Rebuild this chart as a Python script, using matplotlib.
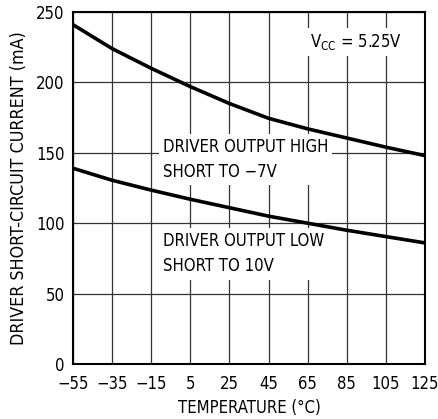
import matplotlib

matplotlib.use("Agg")

from matplotlib import pyplot
import numpy as np

temps = [-55, -35, -15, 5, 25, 45, 65, 85, 105, 125]
high_short = [241, 224, 210, 197, 185, 174.5, 167, 160.5, 154, 148]
low_short = [139, 130.5, 123.5, 117, 111, 105, 100, 95, 90.5, 86]

x_ticks = [-55, -35, -15, 5, 25, 45, 65, 85, 105, 125]
y_ticks = [0, 50, 100, 150, 200, 250]

pyplot.rcParams["font.family"] = ["DejaVu Sans"]
pyplot.rcParams["font.stretch"] = "condensed"
pyplot.rcParams["axes.unicode_minus"] = True

fig = pyplot.figure(figsize=(4.38, 4.19), dpi=100)
ax = fig.add_axes([73 / 438, 1 - 364 / 419, 352 / 438, 352 / 419])

ax.plot(temps, high_short, c="black", lw=2.6, solid_capstyle="butt", zorder=5)
ax.plot(temps, low_short, c="black", lw=2.6, solid_capstyle="butt", zorder=5)

ax.set_xlim(-55, 125)
ax.set_ylim(0, 250)
ax.set_xticks(x_ticks)
ax.set_yticks(y_ticks)
ax.set_xticklabels([str(t).replace("-", "\u2212") for t in x_ticks])
ax.tick_params(length=0, labelsize=12)
ax.tick_params(axis="x", pad=8)
ax.tick_params(axis="y", pad=6)
ax.grid(True, c="#333333", lw=0.9)
for s in ax.spines.values():
    s.set_linewidth(1.5)
    s.set_zorder(6)

ax.set_xlabel("TEMPERATURE (°C)", fontsize=12, labelpad=4)
ax.set_ylabel("DRIVER SHORT-CIRCUIT CURRENT (mA)", fontsize=12.8, labelpad=6)

box = dict(facecolor="white", edgecolor="none", pad=3)
ax.text(
    -9, 145.3, "DRIVER OUTPUT HIGH\nSHORT TO \u22127V",
    fontsize=12, va="center", ha="left", linespacing=1.5, bbox=box, zorder=4,
)
ax.text(
    -9, 78.2, "DRIVER OUTPUT LOW\nSHORT TO 10V",
    fontsize=12, va="center", ha="left", linespacing=1.5, bbox=box, zorder=4,
)
ax.text(
    66, 228.7, "V$_{\\mathregular{CC}}$ = 5.25V",
    fontsize=12, va="center", ha="left", bbox=box, zorder=4,
)

fig.savefig("out.png", dpi=100)
